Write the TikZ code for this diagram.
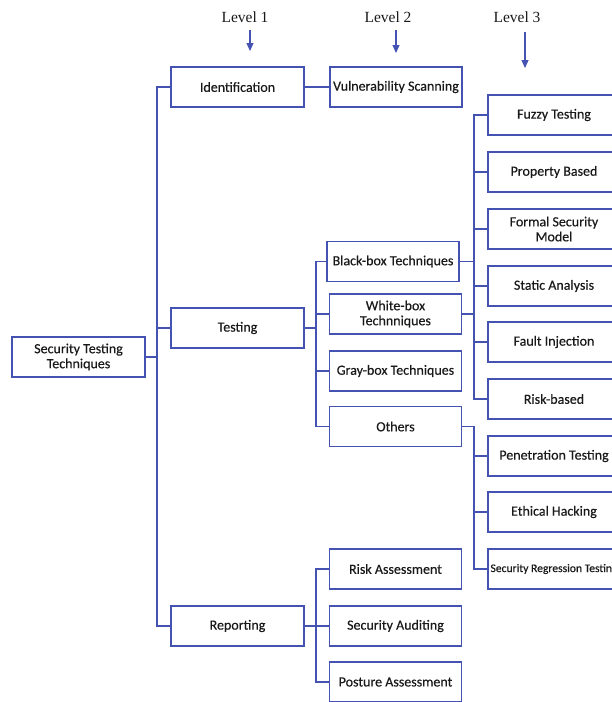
\documentclass[tikz,border=0pt]{standalone}
\usepackage{fontspec}
\setmainfont{Carlito}[FakeBold=0.35]
\newfontfamily\levelfont{Liberation Serif}
\usetikzlibrary{arrows.meta}
\definecolor{boxblue}{RGB}{68,82,178}
\definecolor{txt}{RGB}{25,25,25}
\tikzset{
  box/.style={draw=boxblue, line width=1.8pt, minimum width=132pt, minimum height=40pt,
    inner sep=1pt, align=center, text=txt, font=\fontsize{14}{15}\selectfont},
  conn/.style={draw=boxblue, line width=1.8pt},
  lvl/.style={text=txt, font=\levelfont\fontsize{15.5}{17}\selectfont, inner sep=0pt},
  lvlarrow/.style={draw=boxblue, line width=1.2pt, -{Triangle[width=7pt,length=8pt]}, boxblue}
}
\begin{document}
\begin{tikzpicture}[x=1pt,y=-1pt]
\useasboundingbox (0,0) rectangle (612,702);
\clip (0,0) rectangle (612,702);
% level labels
\node[lvl] (l1) at (245,17) {Level 1};
\node[lvl] (l2) at (388,17) {Level 2};
\node[lvl] (l3) at (517,17) {Level 3};
\coordinate (a1s) at (250,30); \coordinate (a1e) at (250,51);
\coordinate (a2s) at (396,30); \coordinate (a2e) at (396,53);
\coordinate (a3s) at (525,32); \coordinate (a3e) at (525,68);
\draw[lvlarrow] (a1s) -- (a1e);
\draw[lvlarrow] (a2s) -- (a2e);
\draw[lvlarrow] (a3s) -- (a3e);
% root
\node[box, minimum width=133pt] (root) at (78.5,357) {Security Testing\\Techniques};
% level 1
\node[box, minimum width=133pt] (id) at (237.5,87) {Identification};
\node[box, minimum width=133pt] (test) at (237.5,328) {Testing};
\node[box, minimum width=133pt] (rep) at (237.5,626) {Reporting};
% level 2
\node[box] (vs) at (396,87) {Vulnerability Scanning};
\node[box] (bb) at (393,261.5) {Black-box Techniques};
\node[box] (wb) at (395.5,314) {White-box\\Technniques};
\node[box] (gb) at (395.5,371) {Gray-box Techniques};
\node[box] (oth) at (395.5,426.5) {Others};
\node[box] (ra) at (395.5,569) {Risk Assessment};
\node[box] (sa) at (395.5,626) {Security Auditing};
\node[box] (pa) at (395.5,682) {Posture Assessment};
% level 3
\node[box] (fz) at (554,115) {Fuzzy Testing};
\node[box] (pb) at (554,172) {Property Based};
\node[box] (fs) at (554,229) {Formal Security\\Model};
\node[box] (st) at (554,286) {Static Analysis};
\node[box] (fi) at (554,342) {Fault Injection};
\node[box] (rb) at (554,399) {Risk-based};
\node[box] (pt) at (554,456) {Penetration Testing};
\node[box] (eh) at (554,512) {Ethical Hacking};
\node[box, font=\fontsize{11.6}{12}\selectfont] (sr) at (554,569) {Security Regression Testing};
% junction columns
\coordinate (t1) at (157,0);
\coordinate (t2) at (316,0);
\coordinate (t3) at (474,0);
% root to level 1
\draw[conn] (root.east) -- (root.east -| t1);
\draw[conn] (id.west) -- (id.west -| t1) -- (rep.west -| t1) -- (rep.west);
\draw[conn] (test.west) -- (test.west -| t1);
% identification
\draw[conn] (id.east) -- (vs.west);
% testing
\draw[conn] (test.east) -- (test.east -| t2);
\draw[conn] (bb.west) -- (bb.west -| t2) -- (oth.west -| t2) -- (oth.west);
\draw[conn] (wb.west) -- (wb.west -| t2);
\draw[conn] (gb.west) -- (gb.west -| t2);
% reporting
\draw[conn] (rep.east) -- (rep.east -| t2);
\draw[conn] (ra.west) -- (ra.west -| t2) -- (pa.west -| t2) -- (pa.west);
\draw[conn] (sa.west) -- (sa.west -| t2);
% black/white box to level 3
\draw[conn] (bb.east) -- (bb.east -| t3);
\draw[conn] (wb.east) -- (wb.east -| t3);
\draw[conn] (fz.west) -- (fz.west -| t3) -- (rb.west -| t3) -- (rb.west);
\draw[conn] (pb.west) -- (pb.west -| t3);
\draw[conn] (fs.west) -- (fs.west -| t3);
\draw[conn] (st.west) -- (st.west -| t3);
\draw[conn] (fi.west) -- (fi.west -| t3);
% others to level 3
\draw[conn] (oth.east) -- (oth.east -| t3) -- (sr.west -| t3) -- (sr.west);
\draw[conn] (pt.west) -- (pt.west -| t3);
\draw[conn] (eh.west) -- (eh.west -| t3);
\end{tikzpicture}
\end{document}
